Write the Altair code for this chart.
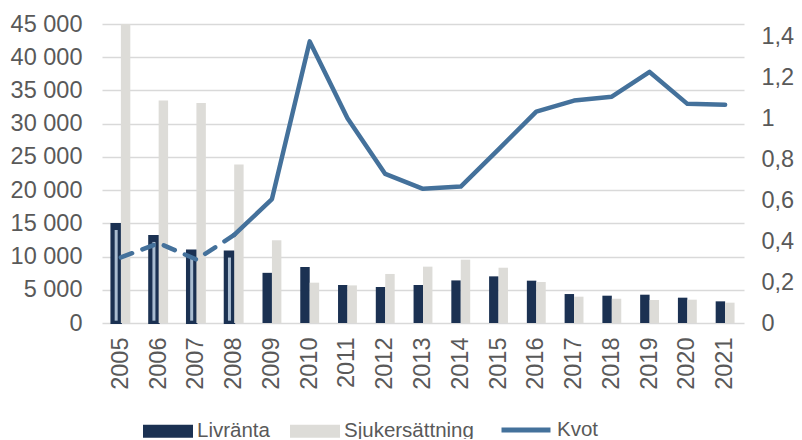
import altair as alt
import pandas as pd

years = list(range(2005, 2022))
livranta = [14900, 13100, 10900, 10750, 7550, 8430, 5720, 5420, 5720, 6410,
            7020, 6370, 4360, 4110, 4260, 3810, 3260]
sjuk = [45000, 33500, 33100, 23850, 12450, 6070, 5660, 7380, 8480, 9530,
        8320, 6170, 3960, 3660, 3460, 3510, 3060]
kvot = [0.32, 0.39, 0.31, 0.43, 0.605, 1.375, 1.0, 0.728, 0.655, 0.666,
        0.848, 1.032, 1.086, 1.105, 1.226, 1.07, 1.066]
left_ticks = [0, 5000, 10000, 15000, 20000, 25000, 30000, 35000, 40000, 45000]
right_ticks = [0, 0.2, 0.4, 0.6, 0.8, 1.0, 1.2, 1.4]

bars_df = pd.DataFrame({
    "year": years * 2,
    "series": ["Livränta"] * len(years) + ["Sjukersättning"] * len(years),
    "value": livranta + sjuk,
})
line_df = pd.DataFrame({"year": years, "series": "Kvot", "ratio": kvot})

FONT = "Liberation Sans"
TXT = "#595959"
x_scale = alt.Scale(paddingInner=0.5, paddingOuter=0.25)
x_axis = alt.Axis(labelAngle=270, labelFontSize=23.5, labelColor=TXT, labelFont=FONT,
                  labelPadding=14, ticks=False, tickSize=0, domain=False, title=None,
                  grid=False)
xo = alt.XOffset("series:N", scale=alt.Scale(domain=["Livränta", "Sjukersättning"],
                                              paddingInner=0, paddingOuter=0))
left_axis = alt.Axis(values=left_ticks, labelExpr="replace(format(datum.value, ','), ',', ' ')",
                     labelFontSize=23.5, labelColor=TXT, labelFont=FONT, labelPadding=20,
                     ticks=False, tickSize=0, domain=False, title=None,
                     gridColor="#D9D9D9", gridWidth=1.3)
line_y_axis = alt.Axis(orient="right", values=right_ticks,
                       labelExpr="replace(format(datum.value, '.1~f'), '.', ',')",
                       labelFontSize=23.5, labelColor=TXT, labelFont=FONT, labelPadding=17,
                       labelAlign="left", labelBound=False,
                       ticks=False, tickSize=0, domain=False, title=None, grid=False)

bar_legend = alt.Legend(orient="none", legendX=41, legendY=382, direction="horizontal",
                        title=None, labelFontSize=20.5, labelColor=TXT, labelFont=FONT,
                        symbolType="M-1,-0.26L1,-0.26L1,0.26L-1,0.26Z", symbolSize=2500,
                        symbolStrokeWidth=0, labelOffset=4, columnPadding=20, padding=0)
line_legend = alt.Legend(orient="none", legendX=397, legendY=379, direction="horizontal",
                         title=None, labelFontSize=20.5, labelColor=TXT, labelFont=FONT,
                         symbolType="stroke", symbolSize=2400, symbolStrokeWidth=5,
                         labelOffset=4, padding=0)

cond = "datum.series == 'Livränta' && datum.year <= 2008"
left_scale = alt.Scale(domain=[0, 45000], nice=False)
right_scale = alt.Scale(domain=[0, 1.46], nice=False)

bar = alt.Chart(bars_df).mark_bar().encode(
    x=alt.X("year:O", scale=x_scale, axis=x_axis),
    xOffset=xo,
    y=alt.Y("value:Q", scale=left_scale, axis=left_axis),
    color=alt.Color("series:N", scale=alt.Scale(domain=["Livränta", "Sjukersättning"],
                                                range=["#1B3152", "#DDDCD8"]),
                    legend=bar_legend),
    stroke=alt.condition(cond, alt.value("#1B3152"), alt.value("transparent")),
    strokeWidth=alt.condition(cond, alt.value(2), alt.value(0)),
)

stripe = alt.Chart(bars_df).transform_filter(cond).transform_calculate(
    top="datum.value - 900", bottom="350"
).mark_bar(width=3, color="#A9BCD0").encode(
    x=alt.X("year:O", scale=x_scale, axis=x_axis),
    xOffset=xo,
    y=alt.Y("top:Q", scale=left_scale, axis=left_axis),
    y2="bottom:Q",
)

line_color = alt.Color("series:N", scale=alt.Scale(domain=["Kvot"], range=["#44719B"]),
                       legend=line_legend)

dashed = alt.Chart(line_df).transform_filter("datum.year <= 2008").mark_line(
    strokeWidth=4.5, strokeCap="round", strokeJoin="round", strokeDash=[12, 11]
).encode(
    x=alt.X("year:O", scale=x_scale, axis=x_axis),
    y=alt.Y("ratio:Q", scale=right_scale, axis=line_y_axis),
    color=line_color,
)
solid = alt.Chart(line_df).transform_filter("datum.year >= 2008").mark_line(
    strokeWidth=4.5, strokeCap="round", strokeJoin="round"
).encode(
    x=alt.X("year:O", scale=x_scale, axis=x_axis),
    y=alt.Y("ratio:Q", scale=right_scale, axis=line_y_axis),
    color=line_color,
)

bars = alt.layer(bar, stripe)
lines = alt.layer(dashed, solid)

chart = alt.layer(bars, lines).resolve_scale(y="independent", color="independent").properties(
    width=642, height=299,
    padding={"left": 94, "top": 16, "right": 50, "bottom": 116},
    autosize=alt.AutoSizeParams(type="none"),
).configure_view(stroke="transparent")

chart.save("out.html", embed_options={"renderer": "svg", "actions": False})
